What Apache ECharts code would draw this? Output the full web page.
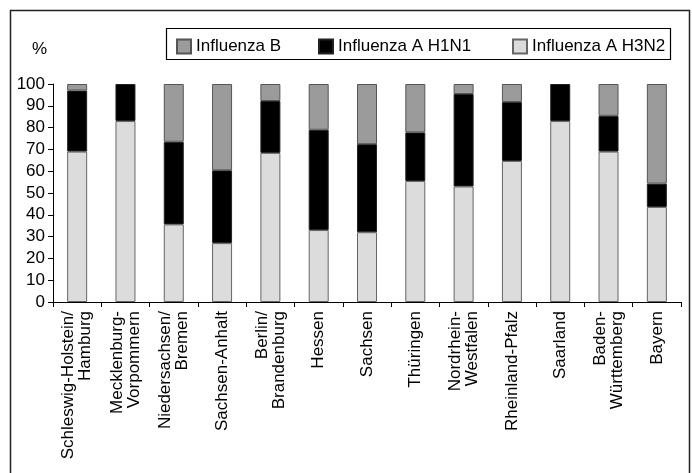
<!DOCTYPE html>
<html>
<head>
<meta charset="utf-8">
<script src="https://cdn.jsdelivr.net/npm/echarts@6/dist/echarts.min.js"></script>
<style>
  html, body { margin: 0; padding: 0; background: #fff; }
  #chart { width: 692px; height: 473px; }
</style>
</head>
<body>
<div id="chart"></div>
<script>
const regions = [
  'Schleswig-Holstein/\nHamburg', 'Mecklenburg-\nVorpommern', 'Niedersachsen/\nBremen',
  'Sachsen-Anhalt', 'Berlin/\nBrandenburg', 'Hessen', 'Sachsen', 'Thüringen',
  'Nordrhein-\nWestfalen', 'Rheinland-Pfalz', 'Saarland', 'Baden-\nWürttemberg', 'Bayern'
];
const h3n2 = [69, 83, 35.6, 27, 68.4, 33, 32, 55.5, 53, 64.7, 83, 69, 43.6];
const h1n1 = [28, 17, 37.9, 33.4, 23.8, 46, 40.4, 22.3, 42.4, 27, 17, 16.4, 10.7];
const fluB = [3, 0, 26.5, 39.6, 7.8, 21, 27.6, 22.2, 4.6, 8.3, 0, 14.6, 45.7];
const yTicks = [0, 10, 20, 30, 40, 50, 60, 70, 80, 90, 100];

const font = 'Liberation Sans, Arial, sans-serif';

// zero shares get no bar at all (avoids a stray outline)
const noZero = (arr) => arr.map((v) => (v === 0 ? '-' : v));

function legendAt(name, x) {
  return {
    data: [name],
    left: x,
    top: 38,
    padding: 0,
    itemWidth: 14,
    itemHeight: 14,
    itemGap: 0,
    icon: 'rect',
    selectedMode: false,
    textStyle: { fontFamily: font, fontSize: 17, color: '#000' }
  };
}

const chart = echarts.init(document.getElementById('chart'));
chart.setOption({
  animation: false,
  backgroundColor: '#fff',
  grid: { left: 53, right: 11, top: 84, bottom: 171 },
  graphic: [
    {
      type: 'rect',
      shape: { x: 10.5, y: 10.5, width: 679, height: 480 },
      style: { fill: 'none', stroke: '#222', lineWidth: 1.5 }
    },
    {
      type: 'rect',
      shape: { x: 166.5, y: 28.5, width: 504, height: 31 },
      style: { fill: 'none', stroke: '#000', lineWidth: 1.2 }
    },
    {
      type: 'text',
      left: 32,
      top: 41,
      style: { text: '%', fontFamily: font, fontSize: 17, fill: '#000' }
    }
  ],
  legend: [
    legendAt('Influenza B', 176),
    legendAt('Influenza A H1N1', 318),
    legendAt('Influenza A H3N2', 512)
  ],
  xAxis: {
    type: 'category',
    data: regions,
    axisLine: { lineStyle: { color: '#000', width: 1 } },
    axisTick: { show: true, length: 5, lineStyle: { color: '#000' } },
    axisLabel: {
      interval: 0,
      rotate: 90,
      margin: 9,
      fontFamily: font,
      fontSize: 17,
      lineHeight: 17,
      color: '#000'
    }
  },
  yAxis: {
    type: 'value',
    min: 0,
    max: 100,
    interval: 10,
    splitLine: { show: false },
    axisLine: { show: true, lineStyle: { color: '#000', width: 1 } },
    axisTick: { show: true, length: 5, lineStyle: { color: '#000' } },
    axisLabel: {
      margin: 8,
      fontFamily: font,
      fontSize: 17,
      color: '#000',
      formatter: (v) => (yTicks.includes(v) ? String(v) : '')
    }
  },
  series: [
    {
      name: 'Influenza A H3N2',
      type: 'bar',
      stack: 'total',
      barWidth: 20,
      data: noZero(h3n2),
      itemStyle: { color: '#dcdcdc', borderColor: '#666', borderWidth: 1 }
    },
    {
      name: 'Influenza A H1N1',
      type: 'bar',
      stack: 'total',
      barWidth: 20,
      data: noZero(h1n1),
      itemStyle: { color: '#000', borderColor: '#222', borderWidth: 1 }
    },
    {
      name: 'Influenza B',
      type: 'bar',
      stack: 'total',
      barWidth: 20,
      data: noZero(fluB),
      itemStyle: { color: '#9b9b9b', borderColor: '#555', borderWidth: 1 }
    }
  ]
});
</script>
</body>
</html>
